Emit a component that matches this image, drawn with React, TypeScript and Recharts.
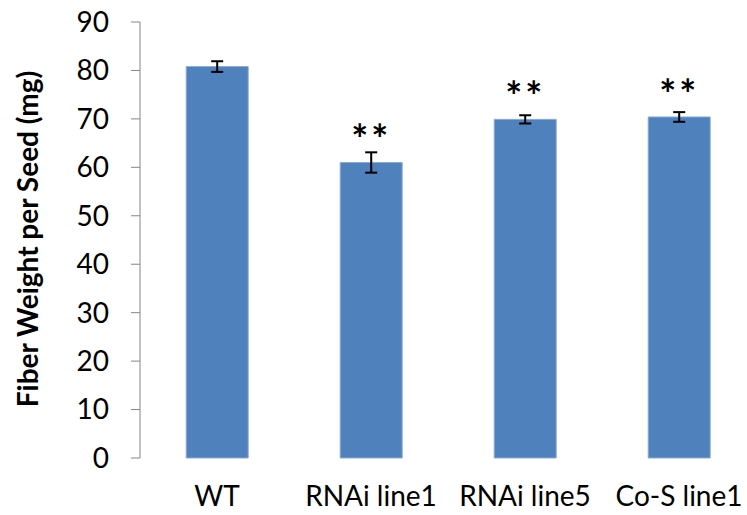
import { BarChart, Bar, XAxis, YAxis, ErrorBar, LabelList, Label } from 'recharts';

const lines = ['WT', 'RNAi line1', 'RNAi line5', 'Co-S line1'];
const weight = [80.8, 61.0, 69.9, 70.4];
const sem = [1.1, 2.1, 0.85, 1.0];
const stars = ['', '**', '**', '**'];
const yTicks = [0, 10, 20, 30, 40, 50, 60, 70, 80, 90];
const edgeTicks = [0, 1, 2, 3, 4];

const data = lines.map((name, i) => ({ name, weight: weight[i], err: sem[i], sig: stars[i] }));

const font = 'Lato, "Open Sans", sans-serif';

const StarLabel = (props: any) => {
  const { x, y, width, value } = props;
  if (!value) return null;
  return (
    <text x={x + width / 2} y={y - 23} textAnchor="middle" dominantBaseline="central"
      fontFamily={font} fontSize={40} fontWeight="bold" fill="#000" letterSpacing={3}>
      {value}
    </text>
  );
};

export default function App() {
  return (
    <div style={{ position: 'absolute', left: 0, top: 0, width: 747, height: 515, overflow: 'hidden', background: '#fff' }}>
      <BarChart width={770} height={515} data={data} barCategoryGap="30%"
        margin={{ top: 22, right: 14, bottom: 0, left: 0 }}>
        <XAxis xAxisId="edge" type="number" domain={[0, 4]} ticks={edgeTicks} height={0}
          tickFormatter={() => ''} tickSize={8} stroke="#868686" />
        <XAxis xAxisId="cat" dataKey="name" height={57} axisLine={false} tickLine={false}
          tickMargin={22} tick={{ fontFamily: font, fontSize: 28, fill: '#000' }} />
        <YAxis domain={[0, 90]} ticks={yTicks} width={140} tickSize={9} tickMargin={22}
          stroke="#868686" tick={{ fontFamily: font, fontSize: 28, fill: '#000' }}>
          <Label content={() => (
            <text x={27} y={239} transform="rotate(-90 27 239)" textAnchor="middle"
              dominantBaseline="central" fontFamily={font} fontSize={28} fontWeight="bold" fill="#000">
              Fiber Weight per Seed (mg)
            </text>
          )} />
        </YAxis>
        <Bar xAxisId="cat" dataKey="weight" fill="#4F81BD" stroke="#8EABD4" strokeWidth={1}
          isAnimationActive={false}>
          <ErrorBar dataKey="err" width={6} stroke="#000" strokeWidth={2} />
          <LabelList dataKey="sig" content={StarLabel} />
        </Bar>
      </BarChart>
    </div>
  );
}
